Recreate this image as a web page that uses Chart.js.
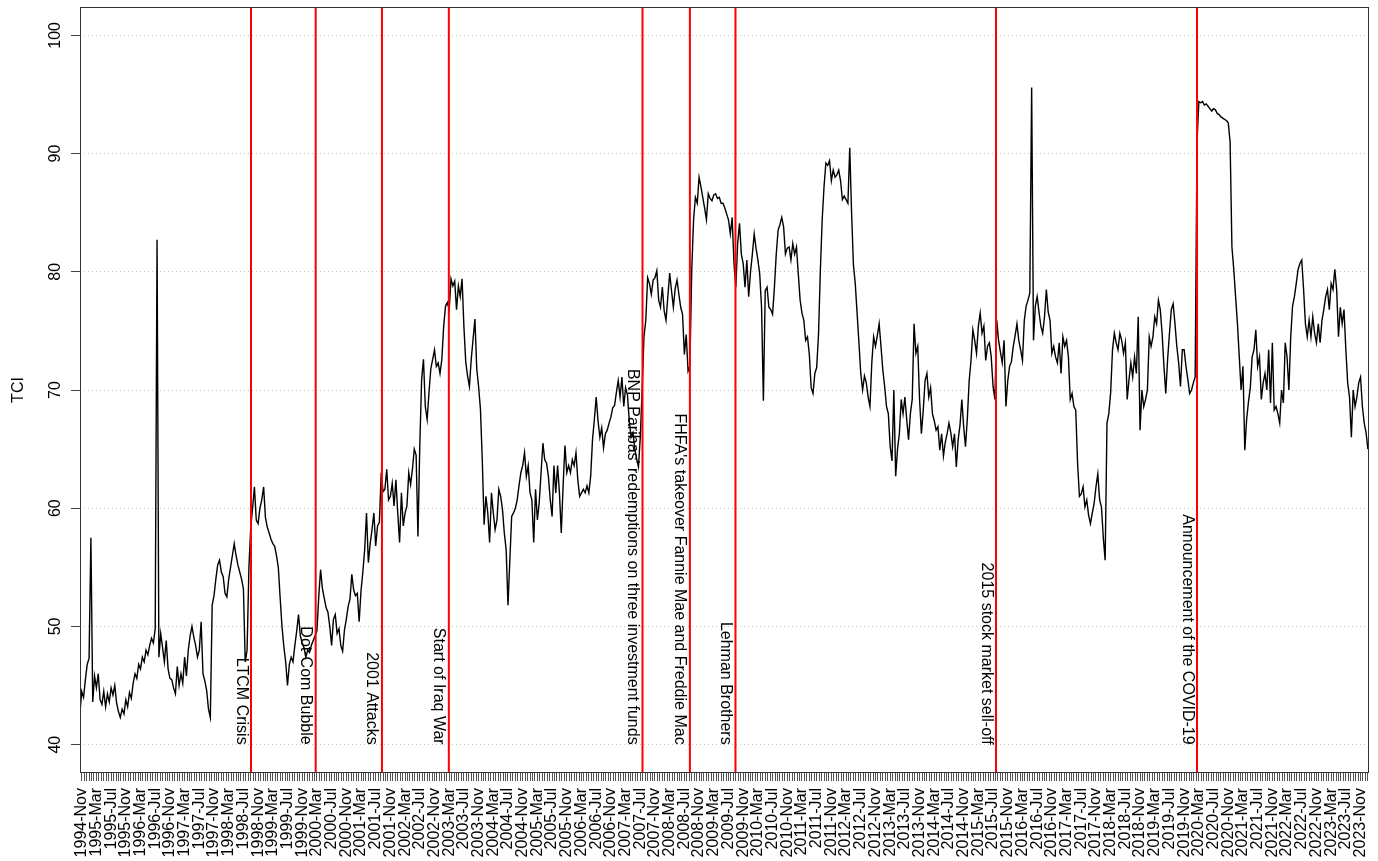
<!DOCTYPE html>
<html>
<head>
<meta charset="utf-8">
<script src="https://cdn.jsdelivr.net/npm/chart.js@4.4.1/dist/chart.umd.min.js"></script>
<style>
html,body{margin:0;padding:0;background:#fff;}
canvas{display:block;}
</style>
</head>
<body>
<canvas id="c" width="1378" height="861"></canvas>
<script>
// ---------- DATA ----------
// TCI series, half-monthly readings starting mid-October 1994
const seriesStart = '1994-10-16';
const stepMonths = 0.5;

const tci1994 = [42.6, 44.5, 44.0, 45.5, 46.8];
const tci1995 = [47.3, 57.5, 43.6, 45.8, 44.8, 46.0, 43.8, 43.4, 44.5, 43.2, 44.3, 43.6, 44.8, 44.2, 45.0, 43.5, 42.8, 42.3, 43.0, 42.6, 43.8, 43.2, 44.4, 43.9];
const tci1996 = [45.2, 46.0, 45.6, 46.8, 46.4, 47.4, 47.0, 48.0, 47.6, 48.4, 49.0, 48.6, 49.8, 82.7, 47.4, 49.4, 48.2, 47.0, 48.8, 46.4, 45.6, 45.5, 44.8, 44.3];
const tci1997 = [46.6, 45.0, 46.0, 45.2, 47.4, 45.8, 48.0, 49.2, 50.0, 49.1, 48.4, 47.4, 48.0, 50.4, 46.0, 45.4, 44.6, 43.0, 42.3, 51.8, 52.6, 54.0, 55.2, 55.6];
const tci1998 = [54.6, 54.2, 52.8, 52.5, 54.0, 55.0, 56.0, 57.0, 56.0, 55.2, 54.6, 54.0, 53.2, 47.0, 48.0, 55.0, 58.4, 60.0, 61.8, 59.0, 58.7, 60.0, 60.7, 61.8];
const tci1999 = [59.2, 58.4, 57.9, 57.4, 57.0, 56.8, 56.0, 55.0, 52.4, 50.0, 48.3, 47.0, 45.0, 46.8, 47.4, 47.0, 48.4, 49.6, 51.0, 49.2, 48.6, 48.2, 47.4, 48.0];
const tci2000 = [47.8, 48.4, 48.8, 49.2, 49.6, 52.5, 54.8, 53.2, 52.4, 51.6, 51.2, 50.0, 48.4, 50.6, 51.0, 49.4, 49.8, 48.4, 47.9, 49.7, 50.6, 51.7, 52.3, 54.4];
const tci2001 = [53.1, 52.6, 52.8, 50.4, 53.0, 54.6, 56.5, 59.6, 55.4, 57.0, 58.2, 59.6, 56.8, 58.5, 58.8, 63.0, 61.4, 61.6, 63.3, 60.7, 61.0, 62.1, 60.2, 62.4];
const tci2002 = [59.6, 57.1, 61.3, 58.5, 59.6, 60.2, 63.0, 62.0, 63.3, 65.0, 64.5, 57.6, 65.3, 70.9, 72.6, 68.6, 67.5, 69.8, 71.8, 72.6, 73.4, 72.0, 72.3, 71.4];
const tci2003 = [72.6, 75.4, 77.1, 77.4, 76.8, 79.4, 78.8, 79.2, 76.8, 78.8, 77.9, 79.4, 75.4, 72.4, 71.2, 70.3, 72.6, 74.3, 76.0, 71.8, 70.3, 68.4, 64.1, 58.6];
const tci2004 = [61.0, 59.6, 57.1, 61.3, 59.6, 58.2, 59.0, 61.6, 61.0, 59.9, 57.9, 56.5, 51.8, 55.6, 59.3, 59.6, 60.0, 60.7, 61.9, 63.0, 63.6, 64.7, 62.7, 63.6];
const tci2005 = [61.3, 60.7, 57.1, 61.6, 59.0, 60.5, 63.0, 65.5, 64.1, 63.8, 62.7, 60.7, 59.3, 63.6, 61.3, 63.6, 61.3, 57.9, 61.9, 65.3, 63.0, 63.6, 63.0, 64.1];
const tci2006 = [63.6, 64.7, 62.4, 61.0, 61.3, 61.6, 61.3, 61.9, 61.3, 62.7, 65.8, 67.5, 69.4, 67.4, 66.0, 66.8, 65.1, 66.3, 66.6, 67.2, 67.7, 68.5, 68.7, 69.8];
const tci2007 = [70.8, 69.4, 71.1, 68.6, 70.2, 69.6, 67.4, 66.0, 66.4, 65.0, 64.2, 63.5, 66.0, 70.0, 74.5, 75.9, 79.5, 79.0, 78.1, 79.3, 79.5, 80.1, 77.6, 77.0];
const tci2008 = [78.7, 76.7, 75.9, 77.9, 79.9, 78.4, 77.0, 78.6, 79.3, 78.1, 77.0, 76.4, 73.0, 74.7, 71.6, 72.0, 80.1, 84.4, 86.3, 85.8, 88.0, 87.2, 86.3, 85.4];
const tci2009 = [84.4, 86.6, 86.2, 86.0, 86.5, 86.6, 86.2, 86.3, 85.8, 85.8, 85.4, 84.9, 84.4, 83.2, 84.6, 80.7, 78.7, 82.4, 84.1, 81.5, 80.7, 78.7, 81.0, 77.9];
const tci2010 = [80.0, 81.5, 83.2, 82.0, 81.0, 79.8, 77.0, 69.1, 78.4, 78.7, 77.0, 76.8, 76.4, 78.7, 81.5, 83.5, 84.0, 84.6, 83.8, 81.5, 82.0, 82.1, 81.0, 82.4];
const tci2011 = [81.5, 82.1, 79.8, 77.6, 76.5, 75.9, 74.2, 74.5, 73.0, 70.2, 69.7, 71.4, 71.9, 74.7, 80.1, 84.4, 87.2, 89.2, 89.0, 89.4, 87.7, 88.6, 88.0, 88.2];
const tci2012 = [88.6, 87.7, 86.1, 86.4, 86.1, 85.8, 90.5, 85.0, 80.6, 79.0, 76.5, 74.0, 71.4, 70.0, 71.2, 70.6, 69.4, 68.6, 72.3, 74.5, 73.7, 74.6, 75.6, 73.7];
const tci2013 = [71.7, 70.3, 68.6, 68.0, 65.2, 64.0, 70.0, 62.7, 65.0, 66.3, 69.2, 68.0, 69.4, 67.5, 65.8, 68.0, 69.2, 75.6, 73.1, 73.7, 69.2, 66.3, 68.3, 70.8];
const tci2014 = [71.4, 69.4, 70.2, 68.0, 67.4, 66.6, 66.9, 64.9, 66.3, 64.4, 65.6, 66.3, 67.2, 66.4, 65.2, 66.3, 63.5, 65.8, 67.0, 69.2, 66.9, 65.2, 67.6, 70.8];
const tci2015 = [72.5, 75.1, 74.2, 73.1, 75.4, 76.5, 74.8, 75.4, 72.5, 73.7, 74.0, 72.8, 70.3, 69.2, 75.9, 74.2, 73.2, 72.3, 74.2, 68.6, 70.8, 72.0, 72.4, 73.7];
const tci2016 = [74.6, 75.6, 74.2, 73.4, 72.5, 75.9, 77.1, 77.6, 78.2, 95.6, 74.2, 77.1, 77.9, 76.6, 75.4, 74.8, 76.2, 78.5, 76.6, 75.9, 73.1, 73.7, 72.8, 72.3];
const tci2017 = [74.0, 71.4, 74.5, 73.7, 74.2, 72.8, 69.2, 69.7, 68.6, 68.3, 63.8, 61.0, 61.2, 61.8, 60.1, 60.7, 59.4, 58.7, 59.6, 60.4, 61.8, 62.9, 60.7, 60.1];
const tci2018 = [57.5, 55.6, 67.2, 68.0, 69.8, 73.4, 74.8, 74.0, 73.4, 74.8, 74.2, 73.1, 74.0, 69.2, 70.9, 72.3, 71.1, 72.8, 71.4, 76.2, 66.6, 70.0, 68.6, 69.2];
const tci2019 = [70.0, 74.5, 73.7, 74.5, 76.2, 75.6, 77.6, 76.8, 74.8, 72.0, 69.7, 72.6, 74.8, 76.8, 77.3, 75.6, 73.7, 72.3, 70.3, 73.4, 73.4, 72.0, 70.9, 69.7];
const tci2020 = [70.0, 70.6, 71.1, 91.0, 94.4, 94.3, 94.4, 94.1, 94.2, 94.0, 93.8, 93.6, 93.8, 93.7, 93.4, 93.3, 93.1, 93.0, 92.9, 92.8, 92.6, 91.0, 82.1, 80.2];
const tci2021 = [77.9, 75.6, 72.8, 70.0, 72.0, 64.9, 67.5, 69.0, 70.2, 72.8, 73.4, 75.1, 72.0, 72.8, 69.2, 70.6, 71.4, 70.0, 73.4, 68.9, 74.0, 68.3, 68.6, 68.0];
const tci2022 = [67.2, 70.0, 68.9, 74.0, 72.8, 70.0, 74.5, 77.1, 77.9, 79.0, 80.2, 80.7, 81.0, 78.5, 75.6, 74.5, 75.9, 74.5, 76.2, 74.8, 74.0, 75.6, 74.0, 75.9];
const tci2023 = [76.8, 77.9, 78.5, 76.8, 79.0, 78.5, 80.2, 78.5, 74.5, 77.0, 75.6, 76.8, 73.4, 70.6, 69.4, 66.0, 70.0, 68.6, 69.4, 70.6, 71.1, 68.6, 67.2, 66.4];
const tci2024 = [65.0];

const axisStart = '1994-10-17';
const axisEnd = '2024-01-10';
const yMin = 37.6, yMax = 102.4;
const yTickValues = [40, 50, 60, 70, 80, 90, 100];
const minorTicksPerLabel = 6;

const xTickLabels = [
 '1994-Nov',
 '1995-Mar','1995-Jul','1995-Nov','1996-Mar','1996-Jul','1996-Nov','1997-Mar','1997-Jul','1997-Nov',
 '1998-Mar','1998-Jul','1998-Nov','1999-Mar','1999-Jul','1999-Nov','2000-Mar','2000-Jul','2000-Nov',
 '2001-Mar','2001-Jul','2001-Nov','2002-Mar','2002-Jul','2002-Nov','2003-Mar','2003-Jul','2003-Nov',
 '2004-Mar','2004-Jul','2004-Nov','2005-Mar','2005-Jul','2005-Nov','2006-Mar','2006-Jul','2006-Nov',
 '2007-Mar','2007-Jul','2007-Nov','2008-Mar','2008-Jul','2008-Nov','2009-Mar','2009-Jul','2009-Nov',
 '2010-Mar','2010-Jul','2010-Nov','2011-Mar','2011-Jul','2011-Nov','2012-Mar','2012-Jul','2012-Nov',
 '2013-Mar','2013-Jul','2013-Nov','2014-Mar','2014-Jul','2014-Nov','2015-Mar','2015-Jul','2015-Nov',
 '2016-Mar','2016-Jul','2016-Nov','2017-Mar','2017-Jul','2017-Nov','2018-Mar','2018-Jul','2018-Nov',
 '2019-Mar','2019-Jul','2019-Nov','2020-Mar','2020-Jul','2020-Nov','2021-Mar','2021-Jul','2021-Nov',
 '2022-Mar','2022-Jul','2022-Nov','2023-Mar','2023-Jul','2023-Nov'
];

const eventDates = ['1998-09-03','2000-02-21','2001-08-22','2003-02-28','2007-07-19','2008-08-16','2009-08-28','2015-07-25','2020-02-16'];
const eventLabels = [
 'LTCM Crisis',
 'Dot-Com Bubble',
 '2001 Attacks',
 'Start of Iraq War',
 "BNP Paribas' redemptions on three investment funds",
 "FHFA's takeover Fannie Mae and Freddie Mac",
 'Lehman Brothers',
 '2015 stock market sell-off',
 'Announcement of the COVID-19'
];
const eventLabelAnchor = 40;
const yTitle = 'TCI';

// ---------- BUILD ----------
function monthIndex(s){
  const p = s.split('-').map(Number);
  return (p[0]-1994)*12 + (p[1]-11) + ((p[2]||1)-1)/30;
}
const tciValues = [].concat(tci1994,tci1995,tci1996,tci1997,tci1998,tci1999,tci2000,tci2001,tci2002,tci2003,
  tci2004,tci2005,tci2006,tci2007,tci2008,tci2009,tci2010,tci2011,tci2012,tci2013,tci2014,tci2015,tci2016,
  tci2017,tci2018,tci2019,tci2020,tci2021,tci2022,tci2023,tci2024);
const x0 = monthIndex(seriesStart);
const points = tciValues.map((v,i)=>({x: x0 + i*stepMonths, y: v}));
const xMin = monthIndex(axisStart), xMax = monthIndex(axisEnd);
const labelStep = 4; // months between labelled ticks

const FONT = "'Liberation Sans', Arial, Helvetica, sans-serif";
Chart.defaults.font.family = FONT;

const decorPlugin = {
  id: 'decor',
  beforeDraw(chart){
    const c = chart.ctx;
    c.save(); c.fillStyle = '#fff'; c.fillRect(0,0,chart.width,chart.height); c.restore();
  },
  afterDatasetsDraw(chart){
    const c = chart.ctx, a = chart.chartArea;
    const xs = chart.scales.x, ys = chart.scales.y;
    c.save();
    c.strokeStyle = '#ff0000'; c.lineWidth = 2;
    eventDates.forEach(d=>{
      const px = xs.getPixelForValue(monthIndex(d));
      c.beginPath(); c.moveTo(px, a.top); c.lineTo(px, a.bottom); c.stroke();
    });
    c.fillStyle = '#000';
    c.font = '16px ' + FONT;
    c.textAlign = 'right'; c.textBaseline = 'alphabetic';
    const yb = ys.getPixelForValue(eventLabelAnchor);
    eventDates.forEach((d,i)=>{
      const px = xs.getPixelForValue(monthIndex(d));
      c.save(); c.translate(px - 14.5, yb); c.rotate(Math.PI/2);
      c.fillText(eventLabels[i], 0, 0); c.restore();
    });
    c.restore();
  },
  afterDraw(chart){
    const c = chart.ctx, a = chart.chartArea, ys = chart.scales.y;
    c.save();
    c.strokeStyle = '#333'; c.lineWidth = 1;
    c.strokeRect(Math.round(a.left)+0.5, Math.round(a.top)+0.5, Math.round(a.right-a.left)-1, Math.round(a.bottom-a.top)-1);
    c.fillStyle = '#000'; c.font = '16px ' + FONT;
    c.textAlign = 'center'; c.textBaseline = 'alphabetic';
    yTickValues.forEach(v=>{
      const py = ys.getPixelForValue(v);
      c.save(); c.translate(a.left - 20, py); c.rotate(-Math.PI/2);
      c.fillText(String(v), 0, 0); c.restore();
    });
    c.save(); c.translate(a.left - 57, (a.top + a.bottom)/2); c.rotate(-Math.PI/2);
    c.fillText(yTitle, 0, 0); c.restore();
    c.restore();
  }
};

new Chart(document.getElementById('c'), {
  type: 'line',
  data: {
    datasets: [{
      data: points,
      borderColor: '#000',
      borderWidth: 1.4,
      pointRadius: 0,
      tension: 0,
      fill: false
    }]
  },
  options: {
    responsive: false,
    animation: false,
    devicePixelRatio: 1,
    parsing: false,
    layout: { padding: { top: 7, right: 9, left: 0, bottom: 0 } },
    plugins: { legend: { display: false }, tooltip: { enabled: false } },
    scales: {
      x: {
        type: 'linear',
        min: xMin,
        max: xMax,
        afterBuildTicks(scale){
          const step = labelStep / minorTicksPerLabel;
          const t = [];
          for (let k = 0; k*step <= xMax; k++) t.push({ value: k*step });
          scale.ticks = t;
        },
        afterFit(scale){ scale.height = 88; scale.paddingLeft = 0; scale.paddingRight = 0; },
        ticks: {
          autoSkip: false,
          minRotation: 90,
          maxRotation: 90,
          padding: 7,
          color: '#000',
          font: { size: 16, family: FONT },
          callback(value, index){
            return index % minorTicksPerLabel === 0 ? (xTickLabels[index / minorTicksPerLabel] || '') : '';
          }
        },
        grid: { drawOnChartArea: false, drawTicks: true, tickLength: 8, tickColor: '#555', tickWidth: 1 },
        border: { display: false }
      },
      y: {
        min: yMin,
        max: yMax,
        afterBuildTicks(scale){ scale.ticks = yTickValues.map(v=>({ value: v })); },
        afterFit(scale){ scale.width = 80; scale.paddingTop = 0; scale.paddingBottom = 0; },
        ticks: { display: false },
        grid: {
          color: '#c4c4c4', lineWidth: 1,
          drawTicks: true, tickLength: 9, tickColor: '#444', tickBorderDash: [20, 0], tickWidth: 1
        },
        border: { display: false, dash: [1, 3] }
      }
    }
  },
  plugins: [decorPlugin]
});
</script>
</body>
</html>
